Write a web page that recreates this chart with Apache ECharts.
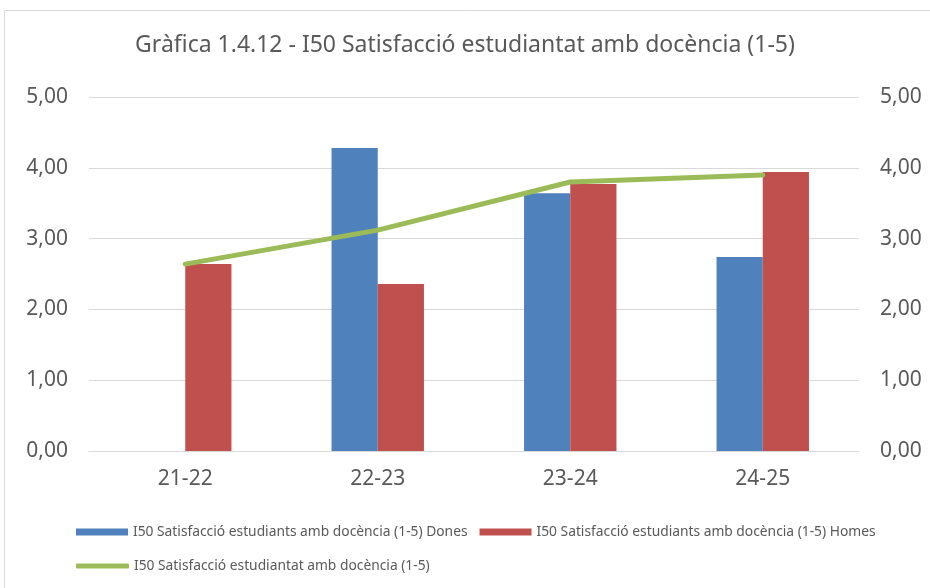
<!DOCTYPE html>
<html>
<head>
<meta charset="utf-8">
<script src="https://cdn.jsdelivr.net/npm/echarts@6/dist/echarts.min.js"></script>
<style>
  html, body { margin: 0; padding: 0; background: #fff; }
  #chart { width: 930px; height: 588px; }
</style>
</head>
<body>
<div id="chart"></div>
<script>
// Academic years
const categories = ['21-22', '22-23', '23-24', '24-25'];
// Satisfaction with teaching (1-5), by gender and overall
const dones = [null, 4.28, 3.64, 2.74];
const homes = [2.64, 2.36, 3.77, 3.94];
const total = [2.64, 3.12, 3.80, 3.90];

const nameDones = 'I50 Satisfacció estudiants amb docència (1-5) Dones';
const nameHomes = 'I50 Satisfacció estudiants amb docència (1-5) Homes';
const nameTotal = 'I50 Satisfacció estudiantat amb docència (1-5)';
const titleText = 'Gràfica 1.4.12 - I50 Satisfacció estudiantat amb docència (1-5)';

const FONT = "'Noto Sans', sans-serif";
const TEXT = '#595959';
const GREEN = '#9BBB59';
const fmt = v => v.toFixed(2).replace('.', ',');

const chart = echarts.init(document.getElementById('chart'), null, { renderer: 'canvas' });

const valueAxis = (pos) => ({
  type: 'value',
  position: pos,
  min: 0,
  max: 5,
  interval: 1,
  axisLine: { show: false },
  axisTick: { show: false },
  splitLine: { show: pos === 'left', lineStyle: { color: '#d9d9d9', width: 1 } },
  axisLabel: { color: TEXT, fontSize: 21, fontFamily: FONT, margin: 21, formatter: fmt }
});

const legendText = { color: TEXT, fontSize: 13.8, fontFamily: FONT };

chart.setOption({
  animation: false,
  backgroundColor: '#fff',
  graphic: [{
    type: 'rect',
    shape: { x: 4.5, y: 10.5, width: 940, height: 600 },
    style: { fill: 'none', stroke: '#d9d9d9', lineWidth: 1 },
    silent: true
  }],
  title: {
    text: titleText,
    left: 'center',
    top: 29,
    textStyle: { color: TEXT, fontSize: 23, fontWeight: 'normal', fontFamily: FONT }
  },
  legend: [{
    data: [nameDones, nameHomes],
    left: 71,
    top: 520,
    itemWidth: 52,
    itemHeight: 7,
    itemGap: 12,
    icon: 'rect',
    textStyle: legendText
  }, {
    data: [nameTotal],
    left: 71,
    top: 554,
    itemWidth: 53,
    itemHeight: 5,
    icon: 'roundRect',
    itemStyle: { color: GREEN, borderWidth: 0 },
    textStyle: legendText
  }],
  grid: { left: 89, right: 71, top: 97, bottom: 137, containLabel: false },
  xAxis: {
    type: 'category',
    data: categories,
    axisLine: { show: true, lineStyle: { color: '#d9d9d9', width: 1 } },
    axisTick: { show: false },
    axisLabel: { color: TEXT, fontSize: 21, fontFamily: FONT, margin: 18 }
  },
  yAxis: [valueAxis('left'), valueAxis('right')],
  series: [{
    name: nameDones,
    type: 'bar',
    data: dones,
    barGap: '0%',
    barCategoryGap: '52%',
    itemStyle: { color: '#4F81BD' }
  }, {
    name: nameHomes,
    type: 'bar',
    data: homes,
    itemStyle: { color: '#C0504D' }
  }, {
    name: nameTotal,
    type: 'line',
    yAxisIndex: 1,
    data: total,
    showSymbol: false,
    symbol: 'none',
    lineStyle: { color: GREEN, width: 5, cap: 'round', join: 'round' },
    itemStyle: { color: GREEN }
  }]
});
</script>
</body>
</html>
